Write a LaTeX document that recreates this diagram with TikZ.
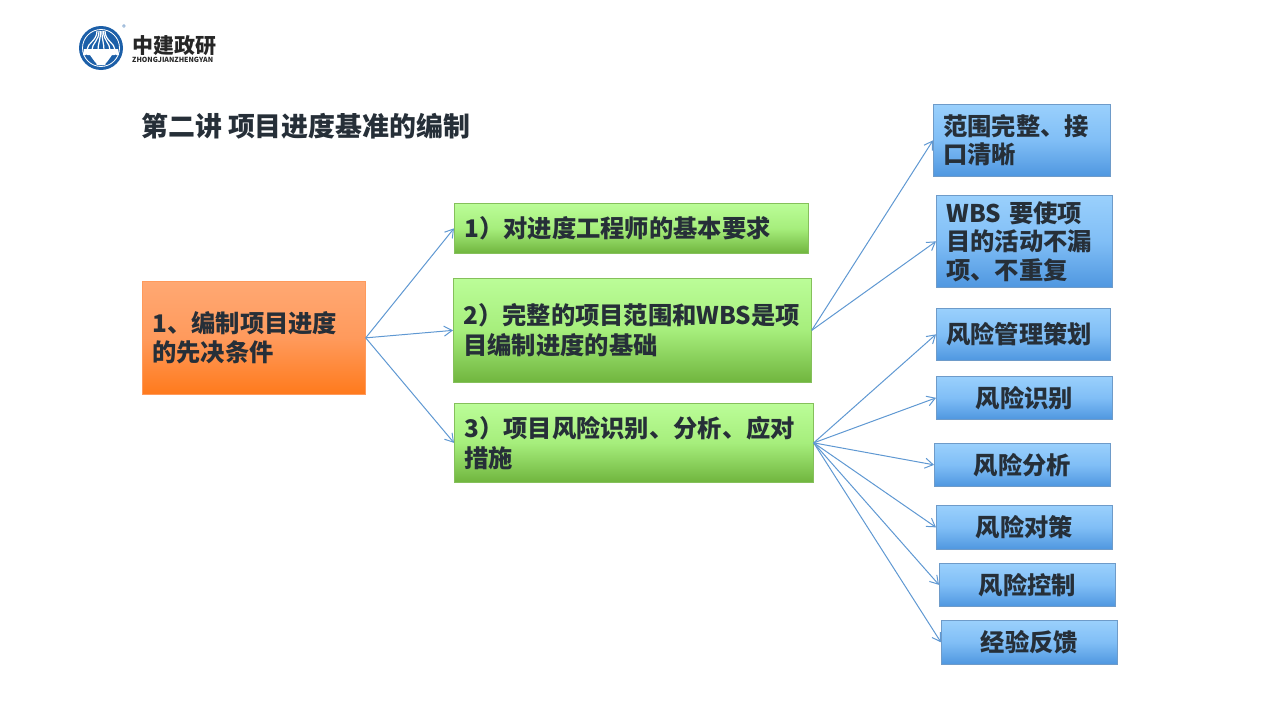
\documentclass[tikz,border=0pt]{standalone}
\usepackage{fontspec}
\setmainfont{Noto Sans CJK SC}
\usetikzlibrary{arrows.meta}
\definecolor{inktext}{HTML}{262F38}
\definecolor{linkblue}{HTML}{5F98D2}
\definecolor{logoblue}{HTML}{1C5FA8}
\definecolor{orangetop}{HTML}{FFA873}
\definecolor{orangemid}{HTML}{FF9A5C}
\definecolor{orangelow}{HTML}{FF7A1C}
\definecolor{greentop}{HTML}{BBFD98}
\definecolor{greenmid}{HTML}{A6EE7C}
\definecolor{greenlow}{HTML}{70B53E}
\definecolor{bluetop}{HTML}{9AD0FC}
\definecolor{bluemid}{HTML}{80BEF6}
\definecolor{bluelow}{HTML}{4F97E0}
\tikzset{
  boxsize/.style 2 args={minimum width=#1pt,minimum height=#2pt,text width=#1pt-20pt},
  basebox/.style={anchor=north west,inner xsep=10pt,inner ysep=0pt,text=inktext,font=\fontsize{24.3}{29.5}\selectfont\bfseries,align=left,line width=0.7pt},
  orangebox/.style={basebox,draw=orangemid,top color=orangetop,bottom color=orangelow,middle color=orangemid},
  greenbox/.style={basebox,draw=greenlow!85!white,top color=greentop,bottom color=greenlow,middle color=greenmid},
  bluebox/.style={basebox,draw=bluelow!70!gray!90!white,top color=bluetop,bottom color=bluelow,middle color=bluemid,font=\fontsize{24.3}{28.5}\selectfont\bfseries},
  link/.style={draw=linkblue,line width=1pt,-{Straight Barb[length=8pt,width=10pt]}},
}
\begin{document}
\begin{tikzpicture}[x=1pt,y=-1pt]
\useasboundingbox (0,0) rectangle (1280,720);
% logo
\fill[logoblue] (101,48) circle (22);
\draw[white,line width=0.8pt] (101,48) circle (18.5);
\foreach \s/\e in {97/87,99/92,100.5/98,102/104,103.5/110,105/115}
  \draw[white,line width=1.2pt] (\s,31) .. controls (\s,41) and (\e,43) .. (\e,50);
\fill[white] (84,49) -- (118,49) -- (119,55) -- (83,55) -- cycle;
\fill[white] (90,55) -- (112,55) -- (105,65) -- (97,65) -- cycle;
\draw[logoblue,line width=1.2pt] (86,55) -- (96,64);
\draw[logoblue,line width=1.2pt] (116,55) -- (106,64);
\node[text=logoblue,font=\fontsize{7}{7}\selectfont,inner sep=0pt] (regmark) at (124,28) {®};
\node[anchor=west,inner sep=0pt,font=\fontsize{21}{21}\selectfont\bfseries,text=black!85] (logoname) at (132,46) {中建政研};
\node[anchor=west,inner sep=0pt,font=\fontsize{7}{7}\selectfont\bfseries,text=black!85] (logopinyin) at (132,60) {ZHONGJIANZHENGYAN};
% title
\node[anchor=west,inner sep=0pt,text=inktext,font=\fontsize{26.9}{30}\selectfont\bfseries] (title) at (141,126) {第二讲 项目进度基准的编制};
% boxes
\node[orangebox,boxsize={223}{113}] (root) at (142,281) {1、编制项目进度\\的先决条件};
\node[greenbox,boxsize={354}{50}] (req) at (454,203) {1）对进度工程师的基本要求};
\node[greenbox,boxsize={358}{104}] (scope) at (453,278) {2）完整的项目范围和WBS是项\\目编制进度的基础};
\node[greenbox,boxsize={359}{79}] (risk) at (454,403) {3）项目风险识别、分析、应对\\措施};
\node[bluebox,boxsize={177}{72}] (clear) at (933,104) {范围完整、接\\口清晰};
\node[bluebox,boxsize={176}{92}] (wbs) at (936,195) {WBS 要使项\\目的活动不漏\\项、不重复};
\node[bluebox,boxsize={174}{52}] (plan) at (936,308) {风险管理策划};
\node[bluebox,boxsize={176}{43},align=center] (identify) at (936,376) {风险识别};
\node[bluebox,boxsize={176}{43},align=center] (analyse) at (934,443) {风险分析};
\node[bluebox,boxsize={176}{44},align=center] (respond) at (936,505) {风险对策};
\node[bluebox,boxsize={176}{43},align=center] (control) at (939,563) {风险控制};
\node[bluebox,boxsize={176}{44},align=center] (feedback) at (941,620) {经验反馈};
% links
\draw[link] (root.east) -- (req.west);
\draw[link] (root.east) -- (scope.west);
\draw[link] (root.east) -- (risk.west);
\foreach \t in {clear,wbs}
  \draw[link] (scope.east) -- (\t.west);
\foreach \t in {plan,identify,analyse,respond,control,feedback}
  \draw[link] (risk.east) -- (\t.west);
\end{tikzpicture}
\end{document}
